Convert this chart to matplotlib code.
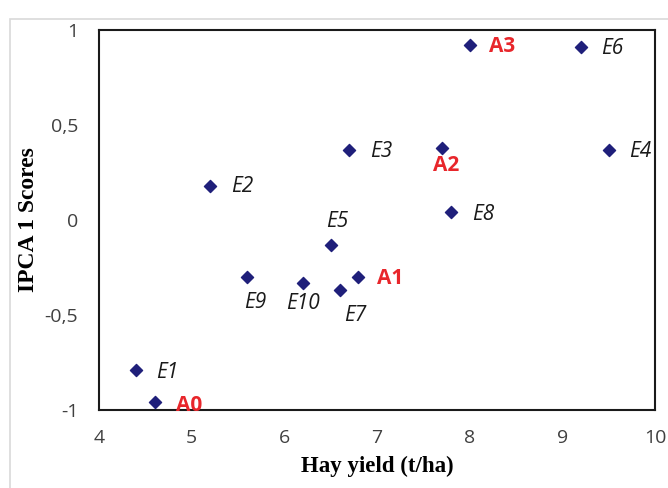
import matplotlib.pyplot as plt
from matplotlib.patches import Rectangle
from matplotlib.ticker import FuncFormatter

# hay yield (t/ha) and IPCA 1 scores per genotype / environment
names = ["A0", "A1", "A2", "A3", "E1", "E2", "E3", "E4", "E5",
         "E6", "E7", "E8", "E9", "E10"]
hay_yield = [4.6, 6.8, 7.7, 8.0, 4.4, 5.2, 6.7, 9.5, 6.5,
             9.2, 6.6, 7.8, 5.6, 6.2]
ipca1 = [-0.96, -0.30, 0.38, 0.92, -0.79, 0.18, 0.37, 0.37, -0.13,
         0.91, -0.37, 0.04, -0.30, -0.33]

# label placement (pixel offsets from the point, horizontal alignment)
offsets = {
    "A0": (21, -3, "left"), "A1": (19, -2, "left"), "A2": (4, -18, "center"),
    "A3": (19, -1, "left"), "E1": (20, -2, "left"), "E2": (21, -1, "left"),
    "E3": (21, -2, "left"), "E4": (20, -2, "left"), "E5": (7, 23, "center"),
    "E6": (20, -1, "left"), "E7": (15, -25, "center"), "E8": (21, -2, "left"),
    "E9": (8, -26, "center"), "E10": (0, -21, "center"),
}

fig = plt.figure(figsize=(6.68, 4.88), dpi=100)
fig.patches.append(Rectangle((10 / 668, -0.1), 1.2, 1 - 19 / 488 + 0.1,
                             transform=fig.transFigure, fill=False,
                             edgecolor="#d9d9d9", linewidth=1.2))
ax = fig.add_axes([99 / 668, 1 - 410 / 488, 556 / 668, 380 / 488])

ax.scatter(hay_yield, ipca1, marker="D", s=38, color="#1f1f7a", zorder=3)

for n, x, y in zip(names, hay_yield, ipca1):
    dx, dy, ha = offsets[n]
    if n.startswith("A"):
        ax.annotate(n, (x, y), xytext=(dx, dy), textcoords="offset pixels",
                    ha=ha, va="center", fontsize=15, fontweight="bold",
                    color="#e8262b", family="Open Sans")
    else:
        ax.annotate(n, (x, y), xytext=(dx, dy), textcoords="offset pixels",
                    ha=ha, va="center", fontsize=15, style="italic",
                    color="#1a1a1a", family="Open Sans")

ax.set_xlim(4, 10)
ax.set_ylim(-1, 1)
ax.set_xticks([4, 5, 6, 7, 8, 9, 10])
ax.set_yticks([-1, -0.5, 0, 0.5, 1])
ax.yaxis.set_major_formatter(FuncFormatter(lambda v, p: f"{v:g}".replace(".", ",")))
ax.tick_params(length=0, labelsize=14, labelcolor="#404040")
ax.tick_params(axis="x", pad=14)
ax.tick_params(axis="y", pad=15)
for lab in ax.get_xticklabels() + ax.get_yticklabels():
    lab.set_family("Open Sans")
for s in ax.spines.values():
    s.set_linewidth(1.5)
    s.set_color("#1a1a1a")

ax.set_xlabel("Hay yield (t/ha)", family="Liberation Serif", fontweight="bold",
              fontsize=16.5, labelpad=6)
ax.set_ylabel("IPCA 1 Scores", family="Liberation Serif", fontweight="bold",
              fontsize=17, labelpad=4)

fig.savefig("out.png", dpi=100)
